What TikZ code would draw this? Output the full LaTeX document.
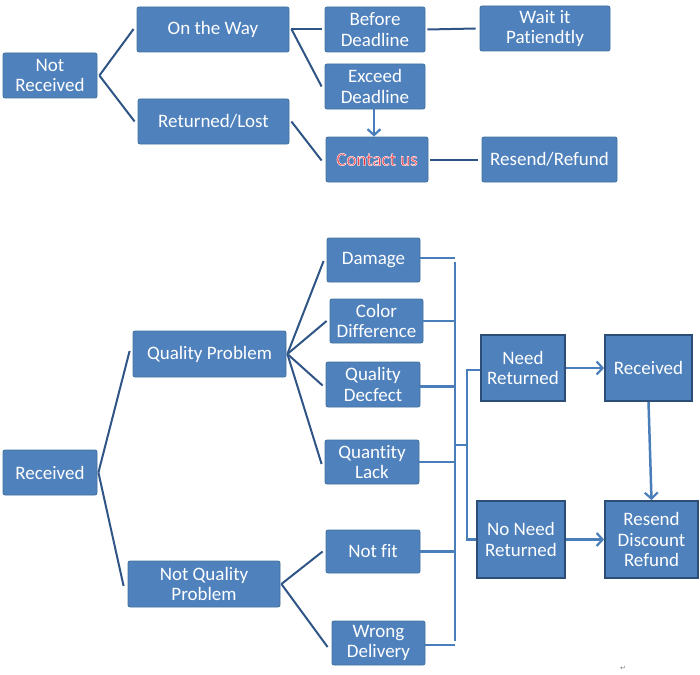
\documentclass[tikz,border=0pt]{standalone}
\usepackage{fontspec}
\setmainfont[Ligatures=NoCommon]{Carlito}
\newfontfamily\symfont{DejaVu Sans}
\usetikzlibrary{arrows.meta}
\definecolor{boxblue}{HTML}{4F81BD}
\definecolor{boxedge}{HTML}{41719C}
\definecolor{darkedge}{HTML}{2C4D75}
\definecolor{linedark}{HTML}{2F5486}
\definecolor{lineblue}{HTML}{4A7EBB}
\definecolor{redtext}{HTML}{E8303A}
\newcommand\glowtext[1]{\special{pdf:literal direct 2 Tr 0.6 w 1 0.88 0.88 RG}#1\special{pdf:literal direct 0 Tr}}
\tikzset{
  box/.style={draw=boxedge, line width=0.8pt, fill=boxblue, rounded corners=2pt,
    text=white, align=center, inner sep=0pt,
    font=\fontsize{19}{20.5}\selectfont},
  sqbox/.style={draw=darkedge, line width=1.8pt, fill=boxblue,
    text=white, align=center, inner sep=0pt,
    font=\fontsize{19}{20.5}\selectfont},
  conn/.style={draw=linedark, line width=2pt},
  busline/.style={draw=lineblue, line width=2.5pt},
  arr/.style={draw=lineblue, line width=2.5pt, -{Straight Barb[length=6pt,width=13pt,line width=2.2pt]}},
}
\begin{document}
\begin{tikzpicture}[x=1pt,y=-1pt]
\useasboundingbox (0,0) rectangle (700,674);
% ---------- top part ----------
\node[box, minimum width=94pt, minimum height=45pt] (notrec) at (50,75.5) {Not\\Received};
\node[box, minimum width=152pt, minimum height=45pt] (otw) at (213,29.5) {On the Way};
\node[box, minimum width=151pt, minimum height=45pt] (retlost) at (213.5,121.5) {Returned/Lost};
\node[box, minimum width=100pt, minimum height=45pt] (before) at (375,29.5) {Before\\Deadline};
\node[box, minimum width=100pt, minimum height=45pt] (exceed) at (375,86.5) {Exceed\\Deadline};
\node[box, minimum width=102pt, minimum height=45pt, text=redtext] (contact) at (377,159.5) {\glowtext{Contact us}};
\node[box, minimum width=130pt, minimum height=45pt] (wait) at (545,28.5) {Wait it\\Patiendtly};
\node[box, minimum width=135pt, minimum height=45pt] (resend) at (549.5,159.5) {Resend/Refund};

\draw[conn] ([xshift=2pt]notrec.east) -- ([xshift=-3pt,yshift=0.5pt]otw.west);
\draw[conn] ([xshift=2pt]notrec.east) -- ([xshift=-3pt]retlost.west);
\draw[conn] ([xshift=2pt]otw.east) -- ([xshift=-3pt]before.west);
\draw[conn] ([xshift=2pt,yshift=0.5pt]otw.east) -- ([xshift=-3pt]exceed.west);
\draw[conn] ([xshift=2pt]retlost.east) -- ([xshift=-4pt,yshift=-1pt]contact.west);
\draw[conn] ([xshift=2pt]before.east) -- ([xshift=-4pt]wait.west);
\draw[conn] ([xshift=2pt]contact.east) -- ([xshift=-4pt]resend.west);
\draw[arr] ([xshift=-1pt]exceed.south) -- ([xshift=-3pt]contact.north);

% ---------- bottom part ----------
\node[box, minimum width=94pt, minimum height=45pt] (rec) at (50,472.5) {Received};
\node[box, minimum width=153pt, minimum height=46pt] (qp) at (209.5,354) {Quality Problem};
\node[box, minimum width=152pt, minimum height=46pt] (nqp) at (204,584) {Not Quality\\Problem};
\node[box, minimum width=93pt, minimum height=44pt] (dmg) at (373.5,260) {Damage};
\node[box, minimum width=93pt, minimum height=44pt] (cdiff) at (376.5,321) {Color\\Difference};
\node[box, minimum width=94pt, minimum height=45pt] (qdef) at (373,384.5) {Quality\\Decfect};
\node[box, minimum width=94pt, minimum height=44pt] (qlack) at (372,462) {Quantity\\Lack};
\node[box, minimum width=94pt, minimum height=43pt] (notfit) at (373,551.5) {Not fit};
\node[box, minimum width=93pt, minimum height=44pt] (wrong) at (378.5,643) {Wrong\\Delivery};
\node[sqbox, minimum width=84pt, minimum height=66pt] (need) at (523,368) {Need\\Returned};
\node[sqbox, minimum width=87pt, minimum height=66pt] (rcv) at (648.5,368) {Received};
\node[sqbox, minimum width=88pt, minimum height=77pt] (noneed) at (521,539.5) {No Need\\Returned};
\node[sqbox, minimum width=93pt, minimum height=77pt] (rdr) at (651.5,539.5) {Resend\\Discount\\Refund};

\draw[conn] ([xshift=1pt]rec.east) -- ([xshift=-3pt,yshift=3pt]qp.west);
\draw[conn] ([xshift=1pt]rec.east) -- ([xshift=-4pt,yshift=-2pt]nqp.west);
\draw[conn] ([xshift=1pt]qp.east) -- ([xshift=-3pt,yshift=-1pt]dmg.west);
\draw[conn] ([xshift=1pt]qp.east) -- ([xshift=-3pt]cdiff.west);
\draw[conn] ([xshift=1pt]qp.east) -- ([xshift=-3pt,yshift=-1pt]qdef.west);
\draw[conn] ([xshift=1pt]qp.east) -- ([xshift=-3pt,yshift=-2pt]qlack.west);
\draw[conn] ([xshift=1pt]nqp.east) -- ([xshift=-3pt]notfit.west);
\draw[conn] ([xshift=1pt]nqp.east) -- ([xshift=-4pt,yshift=-4pt]wrong.west);

\coordinate (bustop) at (455,262);
\coordinate (busbot) at (455,641);
\coordinate (junc) at (467,445);
\draw[busline] (bustop) -- (busbot);
\draw[busline] ([yshift=2pt]dmg.east) -- ([yshift=2pt]dmg.east -| bustop);
\draw[busline] (cdiff.east) -- (cdiff.east -| bustop);
\draw[busline] ([yshift=-2pt]qdef.east) -- ([yshift=-2pt]qdef.east -| bustop);
\draw[busline] (qlack.east) -- (qlack.east -| bustop);
\draw[busline] (notfit.east) -- (notfit.east -| bustop);
\draw[busline] ([yshift=-2pt]wrong.east) -- ([yshift=-2pt]wrong.east -| bustop);
\draw[busline] (junc -| bustop) -- (junc);
\draw[busline] ([yshift=-2pt]need.west) -| (junc) |- (noneed.west);

\draw[arr] (need.east) -- (rcv.west);
\draw[arr] (rcv.south) -- (rdr.north);
\draw[arr] (noneed.east) -- (rdr.west);

\node[text=gray, font=\symfont\fontsize{7}{7}\selectfont, inner sep=0pt] (mark) at (623,668) {↵};
\end{tikzpicture}
\end{document}
